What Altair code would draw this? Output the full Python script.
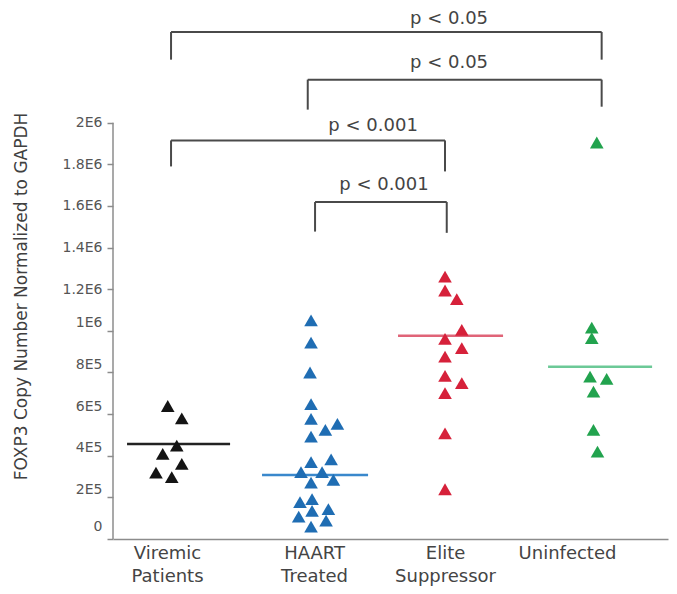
import altair as alt
import pandas as pd

groups = ["Viremic Patients", "HAART Treated", "Elite Suppressor", "Uninfected"]
label_lines = [["Viremic", "Patients"], ["HAART", "Treated"], ["Elite", "Suppressor"], ["Uninfected"]]
label_pos = [0.972, 1.998, 2.912, 3.763]

# values in thousands; x in category units
viremic_y = [639, 580, 449, 409, 361, 319, 297]
viremic_x = [0.977, 1.075, 1.040, 0.942, 1.075, 0.895, 1.005]

haart_y = [1050, 944, 800, 648, 577, 553, 524, 492, 369, 383, 321, 321, 284, 271,
           192, 177, 144, 135, 107, 88, 59]
haart_x = [1.977, 1.977, 1.970, 1.977, 1.977, 2.161, 2.077, 1.977, 1.977, 2.117, 1.907,
           2.054, 2.133, 1.977, 1.984, 1.900, 2.098, 1.984, 1.891, 2.082, 1.977]

elite_y = [1261, 1194, 1152, 1005, 962, 917, 876, 784, 749, 701, 508, 239]
elite_x = [2.912, 2.912, 2.994, 3.029, 2.912, 3.029, 2.912, 2.912, 3.029, 2.912, 2.912, 2.912]

unin_y = [1905, 1016, 965, 780, 769, 708, 524, 420]
unin_x = [3.971, 3.936, 3.936, 3.924, 4.040, 3.948, 3.948, 3.976]

median_y = [457, 308, 976, 828]
median_x1 = [0.693, 1.635, 2.584, 3.631]
median_x2 = [1.412, 2.375, 3.317, 4.357]

bracket_labels = ["p < 0.05", "p < 0.05", "p < 0.001", "p < 0.001"]
bracket_x1 = [1.0, 1.954, 1.0, 2.005]
bracket_x2 = [4.005, 4.005, 2.912, 2.924]
bracket_bar = [2436, 2207, 1915, 1619]
bracket_end_l = [2303, 2063, 1790, 1477]
bracket_end_r = [2303, 2077, 1766, 1471]
text_x = [2.94, 2.94, 2.41, 2.486]
text_y = [2500, 2289, 1986, 1702]

y_tick_values = [0, 200000, 400000, 600000, 800000, 1000000, 1200000, 1400000,
                 1600000, 1800000, 2000000]
y_tick_labels = ["0", "2E5", "4E5", "6E5", "8E5", "1E6", "1.2E6", "1.4E6", "1.6E6",
                 "1.8E6", "2E6"]

point_colors = ["#141414", "#1f6db3", "#d6213a", "#22a34e"]
line_colors = ["#222222", "#3a88cc", "#e06478", "#6cc997"]
FONT = "DejaVu Sans"

# ---- data tables ----
rows = []
for g, xs, ys in zip(groups, [viremic_x, haart_x, elite_x, unin_x],
                     [viremic_y, haart_y, elite_y, unin_y]):
    for xv, yv in zip(xs, ys):
        rows.append({"group": g, "x": xv, "v": yv * 1000})
points = pd.DataFrame(rows)

medians = pd.DataFrame({"group": groups, "x": median_x1, "x2": median_x2,
                        "v": [m * 1000 for m in median_y]})

segs = []
for i in range(len(bracket_labels)):
    segs.append({"x": bracket_x1[i], "x2": bracket_x2[i],
                 "v": bracket_bar[i] * 1000, "v2": bracket_bar[i] * 1000})
    segs.append({"x": bracket_x1[i], "x2": bracket_x1[i],
                 "v": bracket_end_l[i] * 1000, "v2": bracket_bar[i] * 1000})
    segs.append({"x": bracket_x2[i], "x2": bracket_x2[i],
                 "v": bracket_end_r[i] * 1000, "v2": bracket_bar[i] * 1000})
segments = pd.DataFrame(segs)

texts = pd.DataFrame({"x": text_x, "v": [t * 1000 for t in text_y], "label": bracket_labels})

yline = pd.DataFrame({"v": [y_tick_values[0]], "v2": [y_tick_values[-1]]})

# ---- scales & axes ----
xscale = alt.Scale(domain=[0.595, 4.468], nice=False, zero=False)
yscale = alt.Scale(domain=[0, 2532000], nice=False, zero=False)

x_expr = ""
for i, (pos, lines) in enumerate(zip(label_pos, label_lines)):
    arr = "[" + ",".join("'" + s + "'" for s in lines) + "]"
    if i < len(label_pos) - 1:
        thr = (label_pos[i] + label_pos[i + 1]) / 2
        x_expr += f"datum.value < {thr} ? {arr} : "
    else:
        x_expr += arr

y_expr = "[" + ",".join("'" + s + "'" for s in y_tick_labels) + "][round(datum.value / 200000)]"

xaxis = alt.Axis(values=label_pos, labelExpr=x_expr, title=None, grid=False, ticks=False,
                 domainColor="#8c8c8c", domainWidth=1.5, labelFont=FONT, labelFontSize=18,
                 labelColor="#444444", labelLineHeight=23, labelPadding=5,
                 labelBaseline="top", labelAlign="center")
yaxis = alt.Axis(values=y_tick_values, labelExpr=y_expr,
                 title="FOXP3 Copy Number Normalized to GAPDH",
                 titleFont=FONT, titleFontSize=17, titleFontWeight="normal",
                 titleColor="#404040", titleX=-92, titleY=284, titleAngle=270,
                 titleAlign="center", titleBaseline="middle",
                 grid=False, domain=False, tickColor="#8c8c8c", tickSize=6, tickWidth=1.5,
                 labelFont=FONT, labelFontSize=14, labelColor="#555555", labelPadding=5,
                 labelOffset={"condition": [{"test": "datum.value == 0", "value": -13},
                                            {"test": "datum.value <= 1000000", "value": -8}],
                              "value": 0})

X = alt.X("x:Q", scale=xscale, axis=xaxis)
Y = alt.Y("v:Q", scale=yscale, axis=yaxis)

pts = alt.Chart(points).mark_point(shape="triangle-up", filled=True, size=185,
                                   opacity=1).encode(
    x=X, y=Y,
    color=alt.Color("group:N", scale=alt.Scale(domain=groups, range=point_colors), legend=None),
)

med = alt.Chart(medians).mark_rule(strokeWidth=2.5).encode(
    x=X, x2="x2:Q", y=Y,
    color=alt.Color("group:N", scale=alt.Scale(domain=groups, range=line_colors), legend=None),
)

br = alt.Chart(segments).mark_rule(color="#4a4a4a", strokeWidth=2).encode(
    x=X, x2="x2:Q", y=Y, y2="v2:Q")

txt = alt.Chart(texts).mark_text(font=FONT, fontSize=18, color="#444444",
                                 align="center", baseline="middle").encode(
    x=X, y=Y, text="label:N")

yl = alt.Chart(yline).mark_rule(color="#8c8c8c", strokeWidth=1.5).encode(
    x=alt.value(0), y=Y, y2="v2:Q")

chart = alt.layer(yl, br, med, pts, txt).resolve_scale(color="independent").properties(
    width=555, height=527,
    autosize=alt.AutoSizeParams(type="none"),
    padding={"left": 105, "top": 4, "right": 1, "bottom": 47},
    background="white",
).configure_view(stroke=None)

chart.save("out.html", embed_options={"renderer": "svg", "actions": False})
